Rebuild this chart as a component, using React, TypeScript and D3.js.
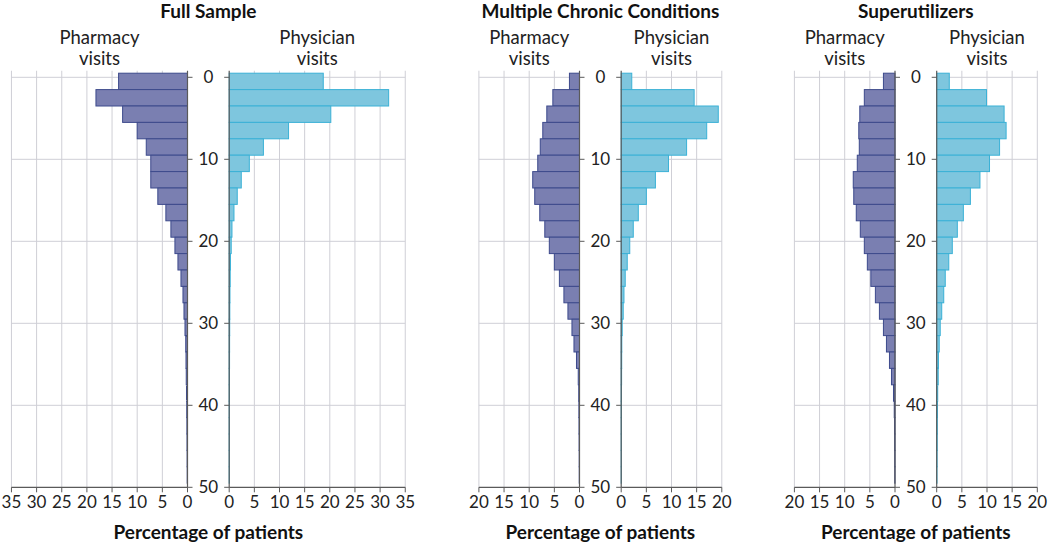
import React from "react";
import * as d3 from "d3";

// ---- Data (percentage of patients per 2-visit bin: 0-1, 2-3, ..., 48-49) ----
const binStarts = d3.range(0, 50, 2);

const fullPharmacy = [13.7, 18.2, 12.9, 10.0, 8.2, 7.3, 7.3, 5.9, 4.3, 3.3, 2.5, 1.9, 1.3, 0.9, 0.7, 0.5, 0.35, 0.3, 0.25, 0.2, 0.15, 0.12, 0.1, 0.08, 0.06];
const fullPhysician = [18.7, 31.7, 20.2, 11.8, 6.8, 4.0, 2.4, 1.6, 0.95, 0.55, 0.4, 0.25, 0.2, 0.15, 0.12, 0.1, 0.08, 0.07, 0.06, 0.05, 0.04, 0.04, 0.03, 0.03, 0.03];

const mccPharmacy = [2.0, 5.3, 6.5, 7.3, 7.8, 8.3, 9.3, 8.9, 7.9, 6.9, 6.0, 5.0, 4.0, 3.1, 2.3, 1.5, 1.1, 0.6, 0.25, 0.15, 0.12, 0.1, 0.08, 0.06, 0.05];
const mccPhysician = [2.1, 14.5, 19.3, 17.0, 13.0, 9.4, 6.8, 5.0, 3.4, 2.4, 1.7, 1.2, 0.8, 0.55, 0.4, 0.2, 0.12, 0.1, 0.08, 0.06, 0.05, 0.04, 0.03, 0.03, 0.03];

const supPharmacy = [2.3, 6.1, 7.0, 7.2, 7.1, 7.5, 8.3, 8.2, 7.7, 6.9, 6.1, 5.5, 4.8, 3.9, 3.1, 2.3, 1.7, 1.1, 0.7, 0.3, 0.15, 0.1, 0.08, 0.06, 0.05];
const supPhysician = [2.5, 9.9, 13.4, 13.8, 12.5, 10.5, 8.6, 6.7, 5.3, 4.1, 3.1, 2.4, 1.7, 1.4, 1.0, 0.7, 0.5, 0.35, 0.3, 0.2, 0.15, 0.12, 0.1, 0.08, 0.06];

const panelTitles = ["Full Sample", "Multiple Chronic Conditions", "Superutilizers"];
const xMaxes = [35, 20, 20];
const yTicks = [0, 10, 20, 30, 40, 50];
const leftLabel = ["Pharmacy", "visits"];
const rightLabel = ["Physician", "visits"];
const xAxisTitle = "Percentage of patients";

// ---- Layout ----
const W = 1050;
const H = 548;
const PX_PER_UNIT = 5.03;
const leftZeros = [187.5, 579.5, 895];
const gap = 41.7;

const FONT = "Lato, 'Open Sans', sans-serif";
const PHARM_FILL = "#7a7fb1";
const PHARM_STROKE = "#3d4a8c";
const PHYS_FILL = "#7ec6de";
const PHYS_STROKE = "#3bb1d6";
const AXIS = "#5a5a5a";
const GRID = "#cfcfd6";

const y = d3.scaleLinear().domain([0, 50]).range([77.3, 487.3]);
const gridTop = y(-0.8);

function Side({ scale, values, fill, stroke, dir, xMax }) {
  const ticks = d3.range(0, xMax + 0.001, 5);
  const zero = scale(0);
  const far = scale(xMax);
  return (
    <g>
      {ticks.filter((t) => t > 0).map((t) => (
        <line key={"vg" + t} x1={scale(t)} x2={scale(t)} y1={gridTop} y2={y(50)} stroke={GRID} strokeWidth={1} />
      ))}
      {yTicks.filter((t) => t < 50).map((t) => (
        <line key={"hg" + t} x1={far} x2={zero} y1={y(t)} y2={y(t)} stroke={GRID} strokeWidth={1} />
      ))}
      {values.map((v, i) => {
        const x0 = scale(0);
        const x1 = scale(v);
        const yTop = y(binStarts[i] - 0.5);
        const yBot = y(binStarts[i] + 1.5);
        return (
          <rect key={i} x={Math.min(x0, x1)} y={yTop} width={Math.abs(x1 - x0)} height={yBot - yTop}
            fill={fill} stroke={stroke} strokeWidth={1} />
        );
      })}
      <line x1={zero} x2={zero} y1={gridTop} y2={y(50)} stroke={AXIS} strokeWidth={1.2} />
      {yTicks.map((t) => (
        <line key={"yt" + t} x1={zero} x2={zero - dir * 5} y1={y(t)} y2={y(t)} stroke={AXIS} strokeWidth={1} />
      ))}
      <line x1={far} x2={zero} y1={y(50)} y2={y(50)} stroke={AXIS} strokeWidth={1.2} />
      {ticks.map((t) => (
        <g key={"xt" + t}>
          <line x1={scale(t)} x2={scale(t)} y1={y(50)} y2={y(50) + 5} stroke={AXIS} strokeWidth={1} />
          <text x={scale(t)} y={508} textAnchor="middle" fontSize={17} fill="#222" fontFamily={FONT}>{t}</text>
        </g>
      ))}
    </g>
  );
}

function Panel({ idx, title, left, right }) {
  const xMax = xMaxes[idx];
  const lz = leftZeros[idx];
  const rz = lz + gap;
  const lScale = d3.scaleLinear().domain([0, xMax]).range([lz, lz - xMax * PX_PER_UNIT]);
  const rScale = d3.scaleLinear().domain([0, xMax]).range([rz, rz + xMax * PX_PER_UNIT]);
  const mid = (lz + rz) / 2;
  const lMid = (lScale(0) + lScale(xMax)) / 2;
  const rMid = (rScale(0) + rScale(xMax)) / 2;
  return (
    <g>
      <Side scale={lScale} values={left} fill={PHARM_FILL} stroke={PHARM_STROKE} dir={-1} xMax={xMax} />
      <Side scale={rScale} values={right} fill={PHYS_FILL} stroke={PHYS_STROKE} dir={1} xMax={xMax} />
      {yTicks.map((t) => (
        <text key={"yl" + t} x={mid} y={y(t)} dy="0.36em" textAnchor="middle" fontSize={17} fill="#222" fontFamily={FONT}>{t}</text>
      ))}
      <text x={mid} y={18} textAnchor="middle" fontSize={19} fontWeight="bold" fill="#111" fontFamily={FONT}>{title}</text>
      {leftLabel.map((s, i) => (
        <text key={"ll" + i} x={lMid} y={44 + i * 20.5} textAnchor="middle" fontSize={18.5} fill="#222" fontFamily={FONT}>{s}</text>
      ))}
      {rightLabel.map((s, i) => (
        <text key={"rl" + i} x={rMid} y={44 + i * 20.5} textAnchor="middle" fontSize={18.5} fill="#222" fontFamily={FONT}>{s}</text>
      ))}
      <text x={mid} y={539} textAnchor="middle" fontSize={19} fontWeight="bold" fill="#111" fontFamily={FONT}>{xAxisTitle}</text>
    </g>
  );
}

export default function App() {
  const panels = [
    [fullPharmacy, fullPhysician],
    [mccPharmacy, mccPhysician],
    [supPharmacy, supPhysician],
  ];
  return (
    <svg width={W} height={H} style={{ position: "absolute", left: 0, top: 0, background: "#fff" }}>
      <rect width={W} height={H} fill="#fff" />
      {panels.map(([l, r], i) => (
        <Panel key={i} idx={i} title={panelTitles[i]} left={l} right={r} />
      ))}
    </svg>
  );
}
